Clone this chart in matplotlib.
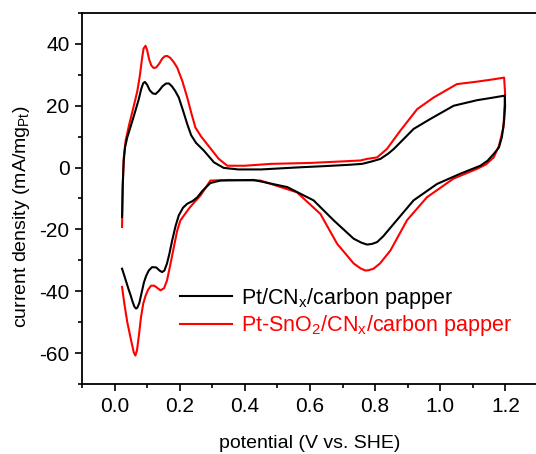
import matplotlib
matplotlib.use("Agg")
from matplotlib import pyplot as plt
from matplotlib.ticker import MultipleLocator

plt.rcParams['font.family'] = ['Liberation Sans', 'DejaVu Sans']
plt.rcParams['mathtext.fontset'] = 'custom'
plt.rcParams['mathtext.rm'] = 'Liberation Sans'
plt.rcParams['axes.unicode_minus'] = False

# Pt/CNx/carbon papper: anodic sweep then cathodic sweep (V vs. SHE, mA/mgPt)
pt_x = [0.023, 0.025, 0.028, 0.032, 0.039, 0.050, 0.064, 0.074, 0.082, 0.088, 0.093,
        0.100, 0.108, 0.117, 0.126, 0.136, 0.147, 0.158, 0.167, 0.176, 0.186, 0.197,
        0.210, 0.223, 0.235, 0.250, 0.274, 0.305, 0.335, 0.38, 0.45,
        0.57, 0.65, 0.72, 0.76, 0.79, 0.816, 0.84, 0.857, 0.89, 0.918, 0.969, 1.041,
        1.113, 1.16, 1.194, 1.198,
        1.199, 1.196, 1.189, 1.18, 1.164, 1.145, 1.123, 1.061, 0.99, 0.918, 0.857,
        0.825, 0.806, 0.79, 0.775, 0.758, 0.734, 0.673, 0.611, 0.53, 0.427, 0.325,
        0.294, 0.270, 0.254, 0.240, 0.223, 0.210, 0.197, 0.187, 0.177, 0.168, 0.161,
        0.153, 0.146, 0.138, 0.128, 0.115, 0.105, 0.097, 0.090, 0.083, 0.076, 0.070,
        0.066, 0.061, 0.055, 0.049, 0.044, 0.033, 0.023]
pt_y = [-16.0, -6.0, 2.0, 6.5, 9.8, 13.5, 18.4, 22.0, 25.5, 27.3, 27.7,
        26.8, 25.0, 24.0, 23.8, 24.8, 26.3, 27.2, 27.2, 26.3, 24.8, 22.7,
        18.5, 14.1, 10.5, 8.0, 5.5, 1.7, -0.1, -0.6, -0.6,
        0.1, 0.5, 0.9, 1.2, 2.0, 2.8, 4.5, 6.0, 9.5, 12.5, 15.7, 20.0,
        21.8, 22.6, 23.2, 23.3,
        20.0, 15.2, 9.8, 6.5, 4.4, 2.2, 0.6, -2.0, -5.3, -10.6, -18.2,
        -22.2, -24.1, -24.7, -24.9, -24.3, -23.0, -17.1, -10.6, -6.3, -4.0, -4.2,
        -5.0, -7.5, -9.6, -10.8, -11.7, -13.0, -15.5, -19.0, -23.5, -28.0, -31.0,
        -33.3, -33.8, -33.3, -32.3, -32.2, -33.3, -35.0, -37.2, -40.5, -43.8, -45.3,
        -45.6, -45.0, -43.3, -41.2, -39.7, -36.0, -32.7]

# Pt-SnO2/CNx/carbon papper
ptsn_x = [0.023, 0.025, 0.028, 0.034, 0.045, 0.058, 0.070, 0.078, 0.084, 0.089,
          0.095, 0.100, 0.106, 0.113, 0.120, 0.128, 0.137, 0.146, 0.154, 0.162,
          0.171, 0.181, 0.192, 0.208, 0.223, 0.236, 0.248, 0.266, 0.284, 0.320,
          0.346, 0.40, 0.48, 0.60, 0.70, 0.755, 0.775, 0.806, 0.836, 0.877, 0.929,
          0.98, 1.051, 1.113, 1.160, 1.196,
          1.199, 1.194, 1.180, 1.164, 1.140, 1.113, 1.04, 0.959, 0.898, 0.847,
          0.815, 0.795, 0.780, 0.770, 0.755, 0.734, 0.683, 0.632, 0.56, 0.448,
          0.35, 0.294, 0.264, 0.245, 0.228, 0.202, 0.192, 0.182, 0.171, 0.161,
          0.152, 0.141, 0.132, 0.122, 0.112, 0.103, 0.095, 0.088, 0.081, 0.075,
          0.069, 0.064, 0.059, 0.052, 0.045, 0.039, 0.030, 0.023]
ptsn_y = [-19.2, -6.0, 3.0, 8.7, 14.0, 19.5, 24.8, 30.0, 35.0, 38.5,
          39.4, 38.0, 35.0, 33.0, 32.2, 32.4, 33.6, 35.2, 36.0, 36.1,
          35.5, 34.2, 32.4, 28.0, 22.7, 17.5, 13.0, 10.0, 7.6, 2.8,
          0.6, 0.6, 1.2, 1.5, 2.0, 2.3, 2.8, 3.3, 6.0, 11.9, 18.9,
          22.7, 27.0, 27.8, 28.5, 29.1,
          23.8, 13.0, 7.0, 3.3, 1.0, -0.4, -3.6, -9.6, -17.0, -26.8,
          -31.0, -32.7, -33.2, -33.3, -32.6, -31.0, -24.6, -15.0, -8.0, -4.2,
          -4.0, -4.2, -9.0, -11.2, -13.3, -17.1, -20.5, -25.7, -31.5, -36.5,
          -39.0, -39.7, -39.0, -38.2, -38.2, -39.5, -41.5, -44.0, -48.5, -54.0,
          -59.0, -60.8, -59.8, -56.5, -53.0, -50.0, -44.0, -38.6]

labels = ['Pt/CN$_\\mathrm{x}$/carbon papper',
          'Pt-SnO$_\\mathrm{2}$/CN$_\\mathrm{x}$/carbon papper']

fig = plt.figure(figsize=(5.36, 4.54), dpi=100)
ax = fig.add_axes([82/536, 1-384/454, 456/536, 371/454])

ax.plot(ptsn_x, ptsn_y, color='red', lw=1.5, label=labels[1], zorder=2)
ax.plot(pt_x, pt_y, color='black', lw=1.5, label=labels[0], zorder=3)

ax.set_xlim(-0.1, 1.3)
ax.set_ylim(-70, 50)
ax.xaxis.set_minor_locator(MultipleLocator(0.1))
ax.yaxis.set_minor_locator(MultipleLocator(10))
ax.set_xticks([0.0, 0.2, 0.4, 0.6, 0.8, 1.0, 1.2])
ax.set_xticklabels(['0.0', '0.2', '0.4', '0.6', '0.8', '1.0', '1.2'])
ax.set_yticks([-60, -40, -20, 0, 20, 40])

ax.tick_params(which='major', direction='out', length=5, width=1.2, labelsize=15,
               top=False, right=False, pad=4)
ax.tick_params(which='minor', direction='out', length=3, width=1.2,
               top=False, right=False)
for s in ax.spines.values():
    s.set_linewidth(1.3)

ax.set_xlabel('potential (V vs. SHE)', fontsize=14)
ax.xaxis.set_label_coords(0.5, -0.138)
ax.set_ylabel('current density (mA/mg$_\\mathrm{Pt}$)', fontsize=14)
ax.yaxis.set_label_coords(-0.11, 0.45)

h, l = ax.get_legend_handles_labels()
leg = ax.legend(h[::-1], l[::-1], loc='center left', bbox_to_anchor=(0.216, 0.194),
                frameon=False, fontsize=15.5, handlelength=2.4, handletextpad=0.4,
                labelspacing=0.12, borderpad=0, borderaxespad=0)
for txt, col in zip(leg.get_texts(), ['black', 'red']):
    txt.set_color(col)

fig.savefig('out.png', dpi=100)
